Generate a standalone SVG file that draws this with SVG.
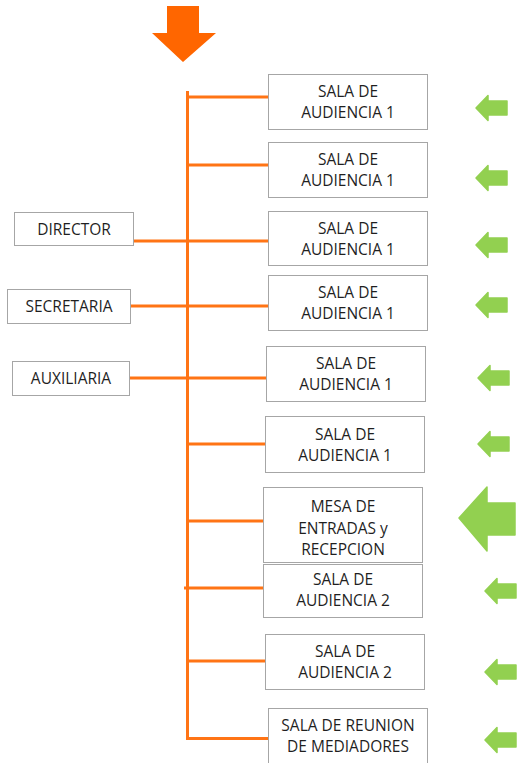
<svg xmlns="http://www.w3.org/2000/svg" xmlns:xlink="http://www.w3.org/1999/xlink" width="517" height="763" viewBox="0 0 517 763">
<style>
.box{fill:#fff;stroke:#a6a6a6;stroke-width:1}
.t{font-family:"Open Sans","Liberation Sans",sans-serif;font-size:15.5px;fill:#1f1f1f;text-anchor:middle}
.ln{stroke:#ff7415;stroke-width:3;fill:none}
.g{fill:#92d050;stroke:#92d050;stroke-width:1.5;stroke-linejoin:round}
</style>
<defs>
<path id="ga" d="M0,0 L12,-12.5 L12,-7 L31,-7 L31,7 L12,7 L12,12.5 Z"/>
</defs>
<rect width="517" height="763" fill="#fff"/>
<g id="connectors">
<polygon points="167,6 199,6 199,33 216,33 183,62 152,33 167,33" fill="#ff6600"/>
<line class="ln" x1="187.5" y1="91" x2="187.5" y2="740"/>
<line class="ln" x1="187" y1="97" x2="268" y2="97"/>
<line class="ln" x1="187" y1="165" x2="268" y2="165"/>
<line class="ln" x1="133" y1="241" x2="268" y2="241"/>
<line class="ln" x1="130" y1="306" x2="268" y2="306"/>
<line class="ln" x1="130" y1="378" x2="266" y2="378"/>
<line class="ln" x1="187" y1="444" x2="265" y2="444"/>
<line class="ln" x1="187" y1="521" x2="263" y2="521"/>
<line class="ln" x1="184" y1="588" x2="263" y2="588"/>
<line class="ln" x1="187" y1="661" x2="265" y2="661"/>
<line class="ln" x1="186" y1="738.5" x2="268" y2="738.5"/>
<g class="g">
<use xlink:href="#ga" x="476" y="108"/>
<use xlink:href="#ga" x="476" y="178"/>
<use xlink:href="#ga" x="476" y="245"/>
<use xlink:href="#ga" x="476" y="305"/>
<use xlink:href="#ga" x="478" y="378"/>
<use xlink:href="#ga" x="478" y="444"/>
<polygon points="459,518 487,487 487,503 515,503 515,535 487,535 487,551"/>
<use xlink:href="#ga" x="485" y="591"/>
<use xlink:href="#ga" x="485" y="672"/>
<use xlink:href="#ga" x="485" y="740"/>
</g>
</g>
<g id="n1"><rect class="box" x="268.5" y="74.5" width="159" height="55"/><text class="t" x="348" y="97">SALA DE</text><text class="t" x="348" y="118">AUDIENCIA 1</text></g>
<g id="n2"><rect class="box" x="268.5" y="142.5" width="159" height="55"/><text class="t" x="348" y="165">SALA DE</text><text class="t" x="348" y="186">AUDIENCIA 1</text></g>
<g id="n3"><rect class="box" x="268.5" y="211.5" width="159" height="54"/><text class="t" x="348" y="234">SALA DE</text><text class="t" x="348" y="255">AUDIENCIA 1</text></g>
<g id="n4"><rect class="box" x="268.5" y="275.5" width="159" height="55"/><text class="t" x="348" y="298">SALA DE</text><text class="t" x="348" y="319">AUDIENCIA 1</text></g>
<g id="n5"><rect class="box" x="266.5" y="346.5" width="159" height="55"/><text class="t" x="346" y="369">SALA DE</text><text class="t" x="346" y="390">AUDIENCIA 1</text></g>
<g id="n6"><rect class="box" x="265.5" y="416.5" width="159" height="56"/><text class="t" x="345" y="440">SALA DE</text><text class="t" x="345" y="461">AUDIENCIA 1</text></g>
<g id="n7"><rect class="box" x="263.5" y="487.5" width="159" height="75"/><text class="t" x="343" y="512">MESA DE</text><text class="t" x="343" y="533.5">ENTRADAS y</text><text class="t" x="343" y="555">RECEPCION</text></g>
<g id="n8"><rect class="box" x="263.5" y="564.5" width="159" height="53"/><text class="t" x="343" y="585">SALA DE</text><text class="t" x="343" y="606">AUDIENCIA 2</text></g>
<g id="n9"><rect class="box" x="265.5" y="634.5" width="159" height="55"/><text class="t" x="345" y="657">SALA DE</text><text class="t" x="345" y="678">AUDIENCIA 2</text></g>
<g id="n10"><rect class="box" x="268.5" y="708.5" width="159" height="60"/><text class="t" x="348" y="731">SALA DE REUNION</text><text class="t" x="348" y="752">DE MEDIADORES</text></g>
<g id="director"><rect class="box" x="14.5" y="212.5" width="119" height="33"/><text class="t" x="74" y="234.5">DIRECTOR</text></g>
<g id="secretaria"><rect class="box" x="7.5" y="289.5" width="123" height="34"/><text class="t" x="69" y="311.5">SECRETARIA</text></g>
<g id="auxiliaria"><rect class="box" x="12.5" y="361.5" width="117" height="34"/><text class="t" x="71" y="383.5">AUXILIARIA</text></g>
</svg>
